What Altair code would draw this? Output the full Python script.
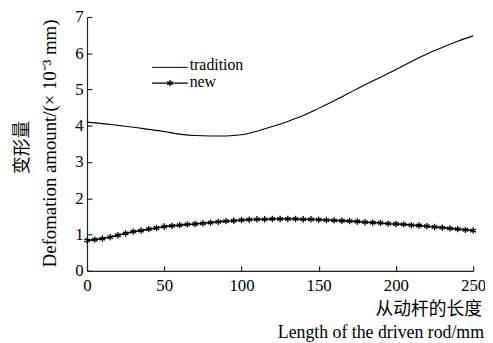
import altair as alt
import pandas as pd

# ---- data ----
trad_x = [0, 10, 20, 30, 40, 50, 60, 70, 80, 90, 100, 110, 120, 130, 140, 150,
          160, 170, 180, 190, 200, 210, 220, 230, 240, 250]
trad_y = [4.10, 4.06, 4.01, 3.96, 3.90, 3.84, 3.77, 3.73, 3.72, 3.72, 3.75, 3.85,
          3.98, 4.12, 4.28, 4.48, 4.69, 4.91, 5.13, 5.34, 5.55, 5.77, 5.98, 6.16,
          6.33, 6.48]

new_x = [0, 5, 10, 15, 20, 25, 30, 35, 40, 45, 50, 55, 60, 65, 70, 75, 80, 85,
         90, 95, 100, 105, 110, 115, 120, 125, 130, 135, 140, 145, 150, 155, 160,
         165, 170, 175, 180, 185, 190, 195, 200, 205, 210, 215, 220, 225, 230,
         235, 240, 245, 250]
new_y = [0.84, 0.86, 0.89, 0.93, 0.98, 1.03, 1.08, 1.11, 1.15, 1.18, 1.22, 1.24,
         1.26, 1.28, 1.29, 1.31, 1.33, 1.35, 1.37, 1.38, 1.40, 1.41, 1.42, 1.42,
         1.43, 1.43, 1.43, 1.43, 1.42, 1.42, 1.41, 1.40, 1.39, 1.38, 1.37, 1.36,
         1.34, 1.33, 1.32, 1.30, 1.29, 1.28, 1.26, 1.25, 1.23, 1.21, 1.19, 1.17,
         1.15, 1.13, 1.11]

x_ticks = [0, 50, 100, 150, 200, 250]
y_ticks = [0, 1, 2, 3, 4, 5, 6, 7]
series_names = ["tradition", "new"]
y_title_cn = "变形量"
y_title_en = "Defomation amount/(× 10⁻³ mm)"
x_title_cn = "从动杆的长度"
x_title_en = "Length of the driven rod/mm"

trad_df = pd.DataFrame({"x": trad_x, "y": trad_y})
new_df = pd.DataFrame({"x": new_x, "y": new_y})
one = pd.DataFrame({"a": [0]})

W, H = 391, 257
SERIF = "Liberation Serif"
CJK = "Noto Sans CJK SC"
ASTER = "M0,-1L0,1M-0.866,-0.5L0.866,0.5M-0.866,0.5L0.866,-0.5"

xscale = alt.Scale(domain=[0, 250], nice=False, zero=False)
yscale = alt.Scale(domain=[0, 7], nice=False, zero=False)

x_lab_axis = alt.Axis(values=x_ticks, title=None, orient="bottom", ticks=False,
                      tickSize=0, labelPadding=7, labelFontSize=17,
                      labelFont=SERIF, labelColor="black", domainColor="#222",
                      domainWidth=1.2, grid=False, labelFlush=False,
                      labelOverlap=False, format="d")
y_lab_axis = alt.Axis(values=y_ticks, title=None, orient="left", ticks=False,
                      tickSize=0, labelPadding=4, labelFontSize=17,
                      labelFont=SERIF, labelColor="black", domainColor="#222",
                      domainWidth=1.2, grid=False, labelFlush=False,
                      labelOverlap=False, format="d")
x_tick_axis = alt.Axis(values=x_ticks, title=None, orient="bottom", domain=False,
                       labels=False, ticks=True, tickSize=5, offset=-5,
                       tickColor="#222", tickWidth=1.2, grid=False)
y_tick_axis = alt.Axis(values=y_ticks, title=None, orient="left", domain=False,
                       labels=False, ticks=True, tickSize=5, offset=-5,
                       tickColor="#222", tickWidth=1.2, grid=False)

trad_line = alt.Chart(trad_df).mark_line(color="black", strokeWidth=1.1,
                                          interpolate="monotone").encode(
    x=alt.X("x:Q", scale=xscale, axis=x_lab_axis),
    y=alt.Y("y:Q", scale=yscale, axis=y_lab_axis),
)

tick_layer = alt.Chart(trad_df).mark_line(opacity=0).encode(
    x=alt.X("x:Q", scale=xscale, axis=x_tick_axis),
    y=alt.Y("y:Q", scale=yscale, axis=y_tick_axis),
)

new_line = alt.Chart(new_df).mark_line(color="black", strokeWidth=1.6).encode(
    x=alt.X("x:Q", scale=xscale, axis=None),
    y=alt.Y("y:Q", scale=yscale, axis=None),
)
new_pts = alt.Chart(new_df).mark_point(shape=ASTER, size=42, filled=False,
                                       stroke="black", strokeWidth=1.3,
                                       opacity=1).encode(
    x=alt.X("x:Q", scale=xscale, axis=None),
    y=alt.Y("y:Q", scale=yscale, axis=None),
)

# legend (drawn by hand)
leg_trad_line = alt.Chart(one).mark_rule(color="black", strokeWidth=1).encode(
    x=alt.value(66), x2=alt.value(102), y=alt.value(51))
leg_trad_text = alt.Chart(one).mark_text(
    text=series_names[0], font=SERIF, fontSize=16, align="left",
    baseline="middle", color="black").encode(x=alt.value(104), y=alt.value(49))
leg_new_line = alt.Chart(one).mark_rule(color="black", strokeWidth=1.3).encode(
    x=alt.value(66), x2=alt.value(102), y=alt.value(67))
leg_new_pt = alt.Chart(one).mark_point(shape=ASTER, size=42, filled=False,
                                       stroke="black", strokeWidth=1.3,
                                       opacity=1).encode(
    x=alt.value(84), y=alt.value(67))
leg_new_text = alt.Chart(one).mark_text(
    text=series_names[1], font=SERIF, fontSize=16, align="left",
    baseline="middle", color="black").encode(x=alt.value(104), y=alt.value(66))

# axis titles (drawn by hand)
yt_cn = alt.Chart(one).mark_text(
    text=y_title_cn, font=CJK, fontSize=18, angle=270, align="center",
    baseline="middle", color="#000000").encode(x=alt.value(-65), y=alt.value(132))
yt_en = alt.Chart(one).mark_text(
    text=y_title_en, font=SERIF, fontSize=19, angle=270, align="center",
    baseline="middle", color="black").encode(x=alt.value(-37), y=alt.value(128))
xt_cn = alt.Chart(one).mark_text(
    text=x_title_cn, font=CJK, fontSize=18, align="right",
    baseline="middle", color="black").encode(x=alt.value(400), y=alt.value(297))
xt_en = alt.Chart(one).mark_text(
    text=x_title_en, font=SERIF, fontSize=18, align="right",
    baseline="middle", color="black").encode(x=alt.value(402), y=alt.value(320))

chart = alt.layer(
    trad_line, tick_layer, new_line, new_pts,
    leg_trad_line, leg_trad_text, leg_new_line, leg_new_pt, leg_new_text,
    yt_cn, yt_en, xt_cn, xt_en,
).resolve_axis(x="independent", y="independent").properties(
    width=W, height=H,
    autosize=alt.AutoSizeParams(type="none"),
    padding={"left": 80, "top": 7, "right": 12, "bottom": 71},
    background="white",
).configure_view(stroke=None)

chart.save("out.html", embed_options={"renderer": "svg", "actions": False})
